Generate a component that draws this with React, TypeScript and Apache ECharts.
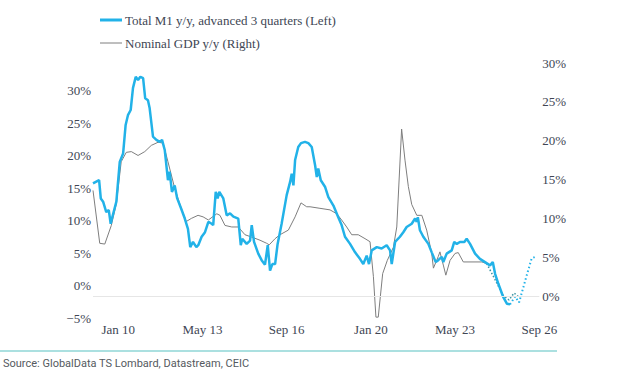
import React, { useEffect, useRef } from "react";
import * as echarts from "echarts";

// x values: months since Jan 2009
const m1Months = [0, 2.9, 3.7, 4.8, 6.3, 7.5, 8.4, 9.0, 11.1, 12.7, 14.3, 15.5, 16.6, 17.9, 19.0, 20.3, 21.4, 22.5, 23.8, 24.8, 26.1, 26.9, 28.5, 30.1, 31.7, 32.8, 34.1, 35.6, 36.4, 37.5, 38.8, 40.0, 41.9, 43.6, 45.1, 46.2, 47.5, 49.1, 50.0, 51.6, 53.2, 54.8, 56.4, 57.1, 58.3, 59.2, 60.0, 61.9, 63.5, 65.1, 66.7, 69.0, 70.2, 70.9, 73.0, 74.6, 75.4, 76.5, 78.5, 80.1, 81.7, 83.0, 84.1, 85.2, 86.5, 87.7, 89.6, 92.0, 93.6, 94.4, 95.2, 96.0, 97.5, 98.8, 100.7, 102.3, 103.9, 105.5, 106.3, 107.0, 108.2, 110.2, 111.8, 114.2, 116.5, 118.1, 119.7, 122.1, 124.5, 126.8, 128.4, 130.0, 131.1, 132.4, 134.8, 137.1, 139.5, 141.1, 141.9, 143.5, 145.8, 147.4, 149.0, 151.4, 153.0, 153.8, 154.3, 155.3, 156.9, 159.3, 160.9, 162.8, 164.0, 165.7, 166.4, 168.0, 170.4, 171.6, 172.8, 174.3, 176.4, 177.5, 179.1, 181.5, 183.8, 186.2, 188.6, 189.9, 191.0, 192.5, 194.9, 196.6, 198.1];
const m1Values = [15.7, 16.2, 13.4, 12.9, 11.3, 11.6, 9.5, 10.3, 12.9, 19.0, 20.3, 24.7, 26.2, 27.0, 30.4, 32.1, 31.6, 32.1, 31.9, 28.8, 28.5, 27.3, 22.9, 22.4, 22.1, 22.4, 20.8, 16.2, 17.5, 14.4, 15.4, 13.4, 11.8, 10.3, 8.7, 5.9, 6.7, 5.9, 6.2, 7.5, 8.2, 9.8, 9.5, 9.3, 14.4, 13.4, 14.4, 13.4, 10.8, 11.1, 10.6, 10.3, 6.2, 7.2, 6.4, 6.9, 9.3, 6.7, 4.9, 3.9, 3.2, 6.2, 2.3, 3.3, 3.3, 6.4, 9.5, 13.9, 15.9, 17.2, 15.4, 19.3, 21.3, 21.9, 22.1, 21.9, 21.3, 18.5, 16.7, 18.0, 16.2, 15.2, 13.6, 12.3, 10.5, 9.3, 7.5, 6.4, 5.1, 4.1, 3.3, 4.6, 3.3, 5.4, 5.9, 5.7, 6.2, 5.4, 3.3, 6.7, 7.5, 8.2, 9.0, 9.5, 10.3, 9.8, 10.5, 8.5, 7.5, 6.4, 5.1, 3.6, 3.9, 4.4, 3.6, 4.9, 5.4, 6.7, 6.4, 6.7, 6.7, 7.2, 6.4, 4.9, 4.1, 3.6, 3.1, 3.6, 1.8, 0.3, -1.8, -2.8, -2.9];

const m1ProjMonths = [198.1, 200.5, 202.4, 205.7, 208.4, 210.9];
const m1ProjValues = [-2.9, -1.7, -2.6, 1.2, 4.2, 4.5];

const gdpMonths = [0, 3.2, 5.6, 8.7, 11.1, 13.4, 15.8, 18.2, 21.4, 24.6, 27.7, 30.9, 33.3, 35.6, 38.8, 41.9, 44.3, 46.7, 49.9, 52.3, 54.8, 58.8, 60.3, 62.7, 65.9, 69.0, 72.2, 75.4, 79.3, 82.5, 83.7, 86.5, 88.8, 92.8, 96.0, 98.8, 101.5, 103.1, 107.8, 112.6, 115.8, 118.1, 120.5, 122.9, 126.0, 129.2, 131.6, 133.2, 134.4, 135.5, 137.6, 139.8, 142.7, 144.3, 146.6, 148.2, 149.8, 151.4, 153.8, 156.2, 158.5, 160.9, 161.7, 164.0, 164.8, 166.4, 167.6, 169.6, 172.0, 173.5, 175.9, 184.7, 187.0];
const gdpValues = [13.6, 6.8, 6.7, 9.1, 11.9, 17.3, 18.5, 18.6, 18.1, 18.6, 19.4, 19.8, 19.7, 17.3, 13.9, 11.3, 9.6, 10.0, 10.4, 10.2, 9.8, 10.6, 10.4, 9.1, 8.9, 8.9, 7.9, 7.6, 7.2, 6.8, 6.6, 7.4, 7.9, 8.5, 10.2, 12.0, 11.5, 11.5, 11.3, 11.1, 10.6, 9.8, 8.9, 7.9, 7.9, 7.4, 7.0, 2.5, -2.7, -2.7, 2.9, 4.6, 6.3, 8.9, 21.5, 17.5, 14.1, 11.8, 10.4, 10.4, 8.5, 5.5, 3.6, 5.1, 5.7, 4.0, 2.7, 4.6, 5.5, 5.6, 4.4, 4.4, 4.2];

const gdpProjMonths = [187.0, 191.4, 194.8, 197.6, 200.0, 201.9];
const gdpProjValues = [4.2, 1.9, 0.1, -0.5, 0.4, 0.0];

const xTickMonths = [12, 52, 92, 132, 172, 212];
const monthNames = ["Jan", "Feb", "Mar", "Apr", "May", "Jun", "Jul", "Aug", "Sep", "Oct", "Nov", "Dec"];

const legendM1 = "Total M1 y/y, advanced 3 quarters (Left)";
const legendGdp = "Nominal GDP y/y (Right)";
const sourceText = "Source: GlobalData TS Lombard, Datastream, CEIC";

const zip = (xs: number[], ys: number[]) => xs.map((x, i) => [x, ys[i]]);

const SERIF = "'Liberation Serif', 'DejaVu Serif', serif";
const BLUE = "#22b2e8";
const GRAY = "#7e7e7e";
const TEXT = "#404654";

export default function App() {
  const ref = useRef<HTMLDivElement>(null);
  useEffect(() => {
    if (!ref.current) return;
    const chart = echarts.init(ref.current, undefined, { renderer: "svg" });
    const fmtX = (v: number) => {
      const m = Math.round(v);
      const yr = 2009 + Math.floor(m / 12);
      return monthNames[((m % 12) + 12) % 12] + " " + String(yr % 100).padStart(2, "0");
    };
    const fmtPct = (v: number) => (v < 0 ? "\u2212" + Math.abs(v) + "%" : v + "%");
    chart.setOption({
      animation: false,
      backgroundColor: "#ffffff",
      grid: [
        { left: 93, width: 446.3, top: 58, height: 260 },
        { left: 93, width: 446.3, top: 63, height: 272 },
      ],
      xAxis: [
        {
          type: "value", gridIndex: 0, min: 0, max: 212,
          axisLine: { show: false }, axisTick: { show: false }, splitLine: { show: false },
          axisLabel: {
            customValues: xTickMonths, formatter: fmtX, margin: 5,
            color: TEXT, fontFamily: SERIF, fontSize: 13,
          },
        },
        {
          type: "value", gridIndex: 1, min: 0, max: 212, show: false,
        },
      ],
      yAxis: [
        {
          type: "value", gridIndex: 0, min: -5, max: 35, interval: 5, position: "left",
          axisLine: { show: false }, axisTick: { show: false }, splitLine: { show: false },
          axisLabel: {
            formatter: (v: number) => (v > 30 ? "" : fmtPct(v)), margin: 2,
            color: TEXT, fontFamily: SERIF, fontSize: 13,
          },
        },
        {
          type: "value", gridIndex: 1, min: -5, max: 30, interval: 5, position: "right",
          axisLine: { show: false }, axisTick: { show: false }, splitLine: { show: false },
          axisLabel: {
            formatter: (v: number) => (v < 0 ? "" : fmtPct(v)), margin: 3,
            color: TEXT, fontFamily: SERIF, fontSize: 13,
          },
        },
      ],
      series: [
        {
          name: legendGdp, type: "line", xAxisIndex: 1, yAxisIndex: 1,
          data: zip(gdpMonths, gdpValues), symbol: "none", z: 2,
          lineStyle: { color: GRAY, width: 1 },
          markLine: {
            silent: true, symbol: "none", label: { show: false },
            lineStyle: { color: "#e6e6e6", width: 1, type: "solid" },
            data: [{ yAxis: 0 }],
          },
        },
        {
          name: "gdpProj", type: "line", xAxisIndex: 1, yAxisIndex: 1,
          data: zip(gdpProjMonths, gdpProjValues), symbol: "none", z: 2,
          lineStyle: { color: "#3a93a3", width: 1.5, type: [1.5, 2] },
        },
        {
          name: legendM1, type: "line", xAxisIndex: 0, yAxisIndex: 0,
          data: zip(m1Months, m1Values), symbol: "none", z: 3,
          lineStyle: { color: BLUE, width: 2.5 },
        },
        {
          name: "m1Proj", type: "line", xAxisIndex: 0, yAxisIndex: 0,
          data: zip(m1ProjMonths, m1ProjValues), symbol: "none", z: 3,
          lineStyle: { color: BLUE, width: 2, type: [1.5, 2.5] },
        },
      ],
      graphic: [
        { type: "line", shape: { x1: 100, y1: 20, x2: 122, y2: 20 }, style: { stroke: BLUE, lineWidth: 3 } },
        { type: "text", x: 125, y: 20, style: { text: legendM1, fill: TEXT, font: `13px ${SERIF}`, textVerticalAlign: "middle" } },
        { type: "line", shape: { x1: 100, y1: 43, x2: 122, y2: 43 }, style: { stroke: GRAY, lineWidth: 1 } },
        { type: "text", x: 125, y: 43, style: { text: legendGdp, fill: TEXT, font: `13px ${SERIF}`, textVerticalAlign: "middle" } },
        { type: "line", shape: { x1: 0, y1: 351, x2: 557, y2: 351 }, style: { stroke: "#8fd6d6", lineWidth: 1.5 } },
        { type: "text", x: 3, y: 363, style: { text: sourceText, fill: "#555a60", font: "11px Roboto, 'Open Sans', sans-serif", textVerticalAlign: "middle" } },
      ],
    });
    return () => chart.dispose();
  }, []);
  return <div ref={ref} style={{ position: "absolute", left: 0, top: 0, width: 619, height: 383 }} />;
}
